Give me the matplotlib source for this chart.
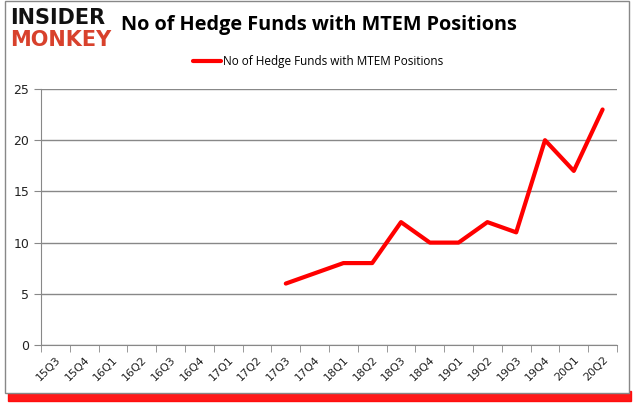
import matplotlib.pyplot as plt
import matplotlib.patches as patches
import numpy as np

quarters = ['15Q3', '15Q4', '16Q1', '16Q2', '16Q3', '16Q4', '17Q1', '17Q2', '17Q3', '17Q4',
            '18Q1', '18Q2', '18Q3', '18Q4', '19Q1', '19Q2', '19Q3', '19Q4', '20Q1', '20Q2']
funds = [None, None, None, None, None, None, None, None, 6, 7,
         8, 8, 12, 10, 10, 12, 11, 20, 17, 23]
series_name = 'No of Hedge Funds with MTEM Positions'

fig = plt.figure(figsize=(6.35, 4.05), dpi=100)
W, H = 635, 405

# frame + red shadow
fig.patches.append(patches.Rectangle((8 / W, 1 - 401 / H), 623 / W, 10 / H, transform=fig.transFigure,
                                     color='#ff0000', alpha=0.9, zorder=0))
fig.patches.append(patches.Rectangle((5 / W, 1 - 393 / H), 624 / W, 392 / H, transform=fig.transFigure,
                                     facecolor='white', edgecolor='#888888', lw=1, zorder=1))

ax = fig.add_axes([41 / W, 1 - 345 / H, (617 - 41) / W, (345 - 89) / H])
ax.set_zorder(2)

x = np.arange(len(quarters))
y = np.array([np.nan if v is None else v for v in funds], dtype=float)
ax.plot(x, y, color='#ff0000', lw=3, label=series_name, solid_capstyle='round', zorder=3)

ax.set_xlim(-0.5, len(quarters) - 0.5)
ax.set_ylim(0, 25)
ax.set_yticks(range(0, 26, 5))
ax.yaxis.grid(True, color='#888888', lw=1)
ax.set_axisbelow(True)
ax.set_xticks(x)
ax.set_xticklabels(quarters, rotation=45, fontsize=8, family='DejaVu Sans', color='#222222')
ax.tick_params(axis='x', length=0, pad=7)
ax.set_xticks(np.arange(-0.5, len(quarters)), minor=True)
ax.tick_params(axis='x', which='minor', length=5, color='#888888')
ax.tick_params(axis='y', length=5, color='#888888', labelsize=9, labelcolor='#222222')
for lbl in ax.get_xticklabels():
    lbl.set_ha('right')
    lbl.set_va('top')
    lbl.set_rotation_mode('anchor')
for s in ['top', 'right']:
    ax.spines[s].set_visible(False)
for s in ['left', 'bottom']:
    ax.spines[s].set_color('#888888')

fig.text(319 / W, 1 - 25 / H, 'No of Hedge Funds with MTEM Positions', ha='center', va='center',
         fontsize=14.3, fontweight='bold', family='Open Sans')
ax.legend(loc='center', bbox_to_anchor=((318 - 41) / 576, 1 + (345 - 62) / 256 - 1), frameon=False,
          prop={'family': 'Open Sans', 'size': 8.5}, handlelength=2.4, handletextpad=0.1)

fig.text(10 / W, 1 - 18 / H, 'INSIDER', fontsize=15, fontweight='black', family='DejaVu Sans',
         va='center', ha='left', color='#111111')
fig.text(10 / W, 1 - 40 / H, 'MONKEY', fontsize=15, fontweight='black', family='DejaVu Sans',
         va='center', ha='left', color='#d8412c')

fig.savefig('out.png', dpi=100)
